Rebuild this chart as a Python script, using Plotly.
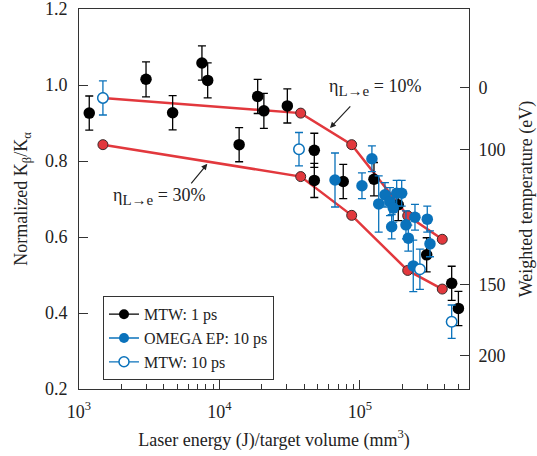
import plotly.graph_objects as go

# ---- data ----
mtw1_x = [1183, 3000, 4640, 7500, 8240, 13800, 18700, 20700, 30400, 47300, 47300,
          76000, 125800, 187300, 298400, 449500, 502000]
mtw1_y = [0.926, 1.015, 0.927, 1.058, 1.012, 0.843, 0.970, 0.932, 0.945, 0.828, 0.749,
          0.746, 0.752, 0.685, 0.553, 0.478, 0.412]
mtw1_err = [0.045, 0.046, 0.045, 0.045, 0.046, 0.045, 0.045, 0.046, 0.045, 0.045, 0.045,
            0.045, 0.044, 0.042, 0.045, 0.045, 0.045]

ep_x = [66400, 103300, 121600, 135900, 150600, 163500, 172600, 182500, 198100, 168100,
        212500, 220800, 246300, 301300, 314900, 239500]
ep_y = [0.750, 0.735, 0.806, 0.687, 0.711, 0.693, 0.676, 0.715, 0.715, 0.627,
        0.632, 0.597, 0.652, 0.647, 0.582, 0.524]
ep_err = [0.071, 0.034, 0.034, 0.074, 0.032, 0.037, 0.037, 0.034, 0.034, 0.032,
          0.037, 0.034, 0.034, 0.034, 0.034, 0.068]

mtw10_x = [1480, 36800, 267000, 449500]
mtw10_y = [0.966, 0.831, 0.515, 0.377]
mtw10_err = [0.045, 0.044, 0.053, 0.044]

eta10_x = [1480, 37850, 87300, 218600, 385300]
eta10_y = [0.966, 0.926, 0.843, 0.656, 0.594]
eta30_x = [1480, 37850, 87300, 218600, 385300]
eta30_y = [0.843, 0.759, 0.657, 0.512, 0.463]

temp_tick_pos = [0.994, 0.829, 0.474, 0.287]
temp_tick_text = ["0", "100", "150", "200"]

x_major = [1e3, 1e4, 1e5]
x_major_text = ["10<sup>3</sup>", "10<sup>4</sup>", "10<sup>5</sup>"]
x_minor = [m * d for d in (1e3, 1e4, 1e5) for m in range(2, 10) if m * d < 6e5]

FONT = "Liberation Serif"
BLACK = "#000000"
BLUE = "#0a72bb"
RED = "#e2383d"
AX = "#333333"
TXT = "#222222"
FS = 18

fig = go.Figure()

for xs, ys in ((eta10_x, eta10_y), (eta30_x, eta30_y)):
    fig.add_trace(go.Scatter(
        x=xs, y=ys, mode="lines+markers", showlegend=False,
        line=dict(color=RED, width=2.5),
        marker=dict(size=10, color=RED, line=dict(color="#3a2a2a", width=1)),
    ))

fig.add_trace(go.Scatter(
    x=mtw1_x, y=mtw1_y, mode="markers", showlegend=False,
    marker=dict(size=11.5, color=BLACK),
    error_y=dict(type="data", array=mtw1_err, color=BLACK, thickness=1.3, width=4),
))
fig.add_trace(go.Scatter(
    x=ep_x, y=ep_y, mode="markers", showlegend=False,
    marker=dict(size=11.5, color=BLUE),
    error_y=dict(type="data", array=ep_err, color=BLUE, thickness=1.3, width=4),
))
fig.add_trace(go.Scatter(
    x=mtw10_x, y=mtw10_y, mode="markers", showlegend=False,
    marker=dict(size=10.5, color="white", line=dict(color=BLUE, width=1.5)),
    error_y=dict(type="data", array=mtw10_err, color=BLUE, thickness=1.3, width=4),
))

# legend-only entries
for name, mc, lc, lw in (("MTW: 1 ps", BLACK, BLACK, 0),
                         ("OMEGA EP: 10 ps", BLUE, BLUE, 0),
                         ("MTW: 10 ps", "white", BLUE, 1.5)):
    fig.add_trace(go.Scatter(
        x=[None], y=[None], mode="lines+markers", name=name,
        line=dict(color=lc, width=1.3),
        marker=dict(size=10, color=mc, line=dict(color=lc, width=lw)),
    ))

# dummy trace to activate y2
fig.add_trace(go.Scatter(x=[None], y=[None], yaxis="y2", showlegend=False))

SUB = "<sub><span style='font-size:15px'>L→e</span></sub>"

fig.update_layout(
    width=537, height=456,
    margin=dict(l=79, r=68, t=9, b=67, autoexpand=False),
    paper_bgcolor="white", plot_bgcolor="white",
    font=dict(family=FONT, size=FS, color=TXT),
    showlegend=True,
    legend=dict(
        x=0.0615, y=0.244, xanchor="left", yanchor="top",
        bordercolor=AX, borderwidth=1, bgcolor="white",
        font=dict(family=FONT, size=16, color=TXT),
        tracegroupgap=0, itemwidth=30,
    ),
    xaxis=dict(
        type="log", range=[3, 5.776], automargin=False,
        tickvals=x_major, ticktext=x_major_text,
        ticks="inside", ticklen=9, tickcolor=AX, tickwidth=1,
        ticklabelstandoff=6, ticklabeloverflow="allow",
        minor=dict(tickvals=x_minor, ticks="inside", ticklen=5, tickcolor=AX, showgrid=False),
        showline=True, linecolor=AX, linewidth=1, mirror=True,
        showgrid=False, zeroline=False,
        tickfont=dict(family=FONT, size=FS),
        title=dict(text="Laser energy (J)/target volume (mm<sup>3</sup>)",
                   font=dict(family=FONT, size=FS), standoff=12),
    ),
    yaxis=dict(
        range=[0.2, 1.2], dtick=0.2, tickformat=".1f", automargin=False,
        ticks="inside", ticklen=9, tickcolor=AX,
        ticklabelstandoff=7, ticklabeloverflow="allow",
        showline=True, linecolor=AX, linewidth=1, mirror=True,
        showgrid=False, zeroline=False,
        tickfont=dict(family=FONT, size=FS),
        title=dict(text="Normalized K<sub>β</sub>/K<sub>α</sub>",
                   font=dict(family=FONT, size=FS), standoff=12),
    ),
    yaxis2=dict(
        overlaying="y", side="right", range=[0.2, 1.2], automargin=False,
        tickvals=temp_tick_pos, ticktext=temp_tick_text,
        ticks="inside", ticklen=9, tickcolor=AX,
        ticklabelstandoff=5, ticklabeloverflow="allow",
        showline=True, linecolor=AX, linewidth=1,
        showgrid=False, zeroline=False,
        tickfont=dict(family=FONT, size=FS),
        title=dict(text="Weighted temperature (eV)",
                   font=dict(family=FONT, size=FS), standoff=23),
    ),
    annotations=[
        dict(xref="paper", yref="paper", x=0.760, y=0.793, showarrow=False,
             xanchor="center", yanchor="middle",
             text="η" + SUB + " = 10%", font=dict(family=FONT, size=FS, color=TXT)),
        dict(xref="paper", yref="paper", x=0.6436, y=0.6866, text="", showarrow=True,
             ax=21.7, ay=-23.3, arrowhead=2, arrowsize=1, arrowwidth=1.2, arrowcolor=TXT),
        dict(xref="paper", yref="paper", x=0.204, y=0.506, showarrow=False,
             xanchor="center", yanchor="middle",
             text="η" + SUB + " = 30%", font=dict(family=FONT, size=FS, color=TXT)),
        dict(xref="paper", yref="paper", x=0.329, y=0.5926, text="", showarrow=True,
             ax=-17.3, ay=21, arrowhead=2, arrowsize=1, arrowwidth=1.2, arrowcolor=TXT),
    ],
)

fig.write_html("out.html", config={"displayModeBar": False},
               post_script="document.body.style.margin='0';")
